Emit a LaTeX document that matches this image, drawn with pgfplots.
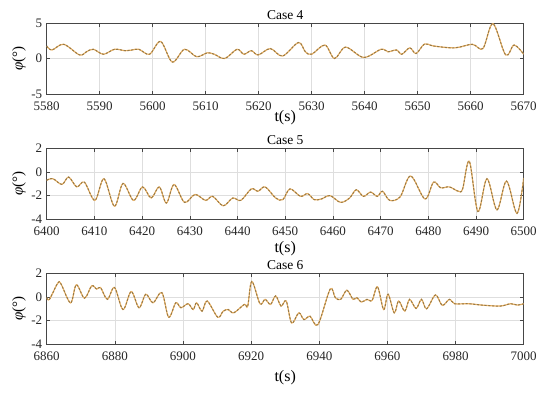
\documentclass[border=0pt]{standalone}
\usepackage{fontspec}
\setmainfont{Liberation Serif}
\usepackage{pgfplots}
\pgfplotsset{compat=1.18}
\definecolor{lineA}{RGB}{236,178,100}
\definecolor{lineB}{RGB}{150,122,72}
\definecolor{gridc}{RGB}{222,222,222}
\definecolor{axc}{RGB}{70,70,70}
\pgfplotsset{
  panel/.style={
    width=477pt, height=71pt, scale only axis,
    anchor=south west,
    axis line style={axc, line width=0.6pt},
    tick style={axc, line width=0.5pt},
    tick align=inside, major tick length=3.5pt,
    grid=major, major grid style={gridc, line width=0.5pt},
    /pgf/number format/assume math mode=true,
    /pgf/number format/set thousands separator={},
    tick label style={font=\fontsize{13}{15}\selectfont, text=black!85},
    xticklabel style={yshift=-4pt},
    yticklabel style={xshift=-1pt},
    every axis title shift=0pt,
    title style={font=\fontsize{13.5}{15}\selectfont, at={(axis description cs:0.5,1.115)}, anchor=center},
    ylabel={\textit{φ}(°)},
    ylabel style={font=\fontsize{15}{17}\selectfont, at={(axis description cs:-0.058,0.5)}, anchor=center},
    xlabel={t(s)},
  },
  base/.style={lineA, line width=1.2pt, smooth, tension=0.55},
  over/.style={lineB, line width=1.0pt, smooth, tension=0.55, dash pattern=on 2.2pt off 1.6pt},
}
\begin{document}
\begin{tikzpicture}[x=1pt,y=1pt]
\path[use as bounding box] (0,0) rectangle (550,392);
% ---------------- Case 4
\begin{axis}[panel, at={(46.7pt,298pt)},
  title={Case 4},
  xmin=5580, xmax=5670, ymin=-5, ymax=5,
  xtick={5580,5590,...,5670}, ytick={-5,0,5},
  xlabel style={font=\fontsize{16}{18}\selectfont, at={(axis description cs:0.5,-0.34)}, anchor=center},
]
\pgfplotstableread{
x y
5580 1.76
5581 1.2
5583.2 2.0
5586.2 0.5
5587.5 0.95
5588.8 1.3
5590.7 0.6
5592.8 1.3
5594.8 1.1
5596.1 1.2
5597.4 1.3
5599.4 0.6
5601.5 2.4
5603.7 -0.5
5606 1.3
5608.3 0.25
5610.3 0.8
5611.6 0.6
5613.6 0.0
5615.9 1.3
5617.2 0.6
5618.6 1.1
5619.9 0.5
5622.2 1.4
5624.5 0.35
5627.5 2.25
5628.8 0.95
5630 0.6
5632.5 1.9
5634.3 0.0
5636.4 1.6
5639.8 0.15
5643.1 1.3
5644.4 0.95
5646 1.2
5647 0.6
5648.5 1.5
5649.7 0.7
5651.3 2.05
5653 1.76
5657 1.5
5660.3 2.0
5662.3 1.4
5664.2 4.9
5666.6 0.5
5668.2 1.9
5670 0.6
}\dataA
\addplot[base] table {\dataA};
\addplot[over] table {\dataA};
\end{axis}
% ---------------- Case 5
\begin{axis}[panel, at={(46.7pt,172.7pt)},
  title={Case 5},
  xmin=6400, xmax=6500, ymin=-4, ymax=2,
  xtick={6400,6410,...,6500}, ytick={-4,-2,0,2},
  xlabel style={font=\fontsize{16}{18}\selectfont, at={(axis description cs:0.5,-0.41)}, anchor=center},
]
\pgfplotstableread{
x y
6400 -0.7
6401.3 -0.57
6403.2 -1.05
6404.6 -0.43
6406.3 -1.26
6407.9 -0.86
6410.1 -2.4
6412 -0.57
6414.2 -2.9
6416 -0.97
6418.2 -2.4
6420.1 -1.26
6421.9 -2.2
6423.6 -1.26
6425.1 -2.63
6426.7 -1.06
6428.9 -2.57
6431.1 -1.9
6433.3 -2.4
6434.8 -2.06
6437 -2.86
6439 -2.2
6440.7 -2.4
6442.9 -1.43
6444.3 -1.63
6445.8 -1.26
6448 -2.2
6449.5 -2.34
6451 -1.43
6453.2 -2.06
6454.7 -1.83
6456.1 -2.34
6457.6 -2.28
6459.4 -2.0
6461.6 -2.57
6463.5 -2.2
6464.9 -1.5
6466.4 -2.06
6467.9 -1.7
6469.3 -2.06
6470.4 -1.63
6471.9 -2.4
6474.1 -2.1
6476.3 -0.34
6479.3 -2.28
6481.1 -0.86
6482.6 -1.34
6484.4 -1.26
6486.3 -1.63
6487.2 -1.43
6488.6 0.9
6490.4 -3.34
6492.3 -0.57
6494.4 -3.2
6496.4 -0.77
6498.6 -3.5
6500 -0.5
}\dataB
\addplot[base] table {\dataB};
\addplot[over] table {\dataB};
\end{axis}
% ---------------- Case 6
\begin{axis}[panel, at={(46.7pt,47.7pt)},
  title={Case 6},
  xmin=6860, xmax=7000, ymin=-4, ymax=2,
  xtick={6860,6880,...,7000}, ytick={-4,-2,0,2},
  xlabel style={font=\fontsize{16}{18}\selectfont, at={(axis description cs:0.5,-0.47)}, anchor=center},
]
\pgfplotstableread{
x y
6860 -0.05
6860.8 -0.2
6863.2 1.14
6864.2 1.1
6867 -0.5
6868.7 1.03
6871.1 -0.1
6873.2 0.94
6874.7 0.66
6875.8 0.8
6877.8 -0.2
6879.9 0.8
6882.4 -1.06
6884.8 0.46
6887.1 -0.91
6889.1 0.23
6891.2 -0.49
6893.8 0.37
6895.8 -1.71
6897.9 -0.49
6899.4 -0.91
6901.5 -0.57
6903 -1.06
6904 -0.49
6905.6 -1.2
6907.1 -0.34
6910.2 -1.71
6911.8 -1.2
6913.3 -1.06
6914.9 -1.34
6918 -0.63
6919 -0.77
6920.2 1.31
6922.6 -0.57
6924.1 -0.2
6925.7 -0.63
6927.2 0.09
6928.8 -0.77
6930.3 -0.34
6931.9 -2.2
6934 -1.34
6935.5 -1.91
6937.3 -1.63
6939.6 -2.34
6943.2 0.66
6944.7 -0.06
6946.3 -0.2
6948.1 0.57
6949.9 -0.2
6951 -0.06
6952.4 -0.43
6954 -0.2
6955.5 -0.29
6957.1 0.86
6958.9 -1.06
6960.2 0.23
6962 -1.34
6963.3 -0.34
6965.1 -1.2
6966.5 -0.2
6968.4 -0.97
6970 -0.2
6971.5 -1.0
6974.1 0.17
6976.1 -0.71
6978.2 -0.2
6979.7 -0.57
6983.8 -0.57
6987.9 -0.69
6993.1 -0.77
6996.2 -0.57
6998.2 -0.69
7000 -0.57
}\dataC
\addplot[base] table {\dataC};
\addplot[over] table {\dataC};
\end{axis}
\end{tikzpicture}
\end{document}
